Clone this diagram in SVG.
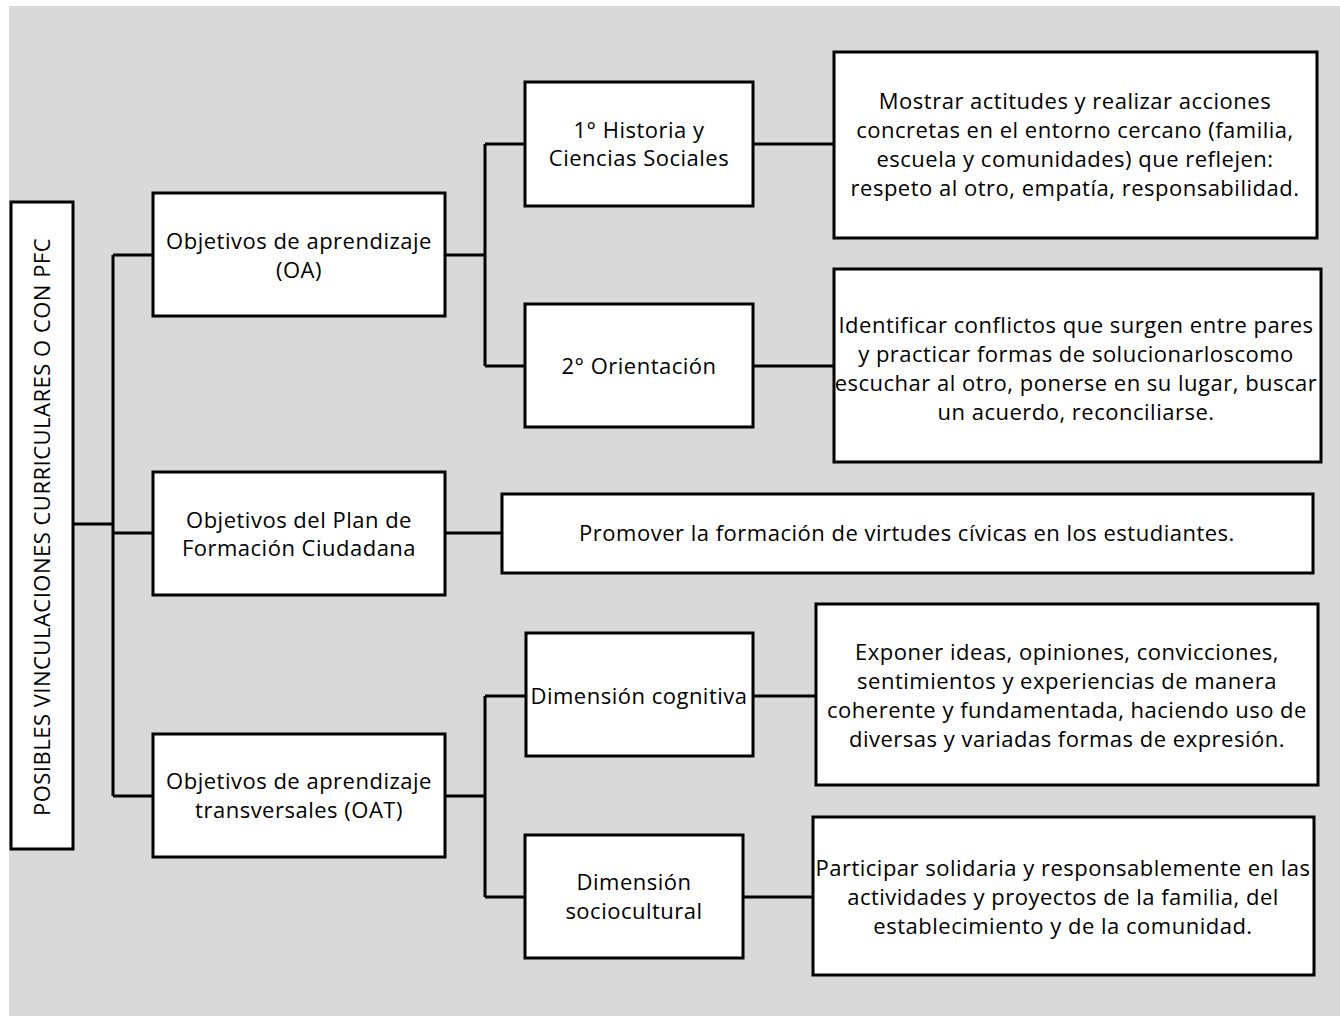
<svg xmlns="http://www.w3.org/2000/svg" width="1340" height="1017" viewBox="0 0 1340 1017">
<style>
.box{fill:#fff;stroke:#000;stroke-width:3}
.ln{fill:none;stroke:#000;stroke-width:3}
text{font-family:"Open Sans","Noto Sans","Liberation Sans",sans-serif;font-size:22px;letter-spacing:0.5px;fill:#000;text-anchor:middle}
</style>
<rect x="9" y="6" width="1331" height="1010" fill="#d9d9d9"/>
<g id="connectors">
<path class="ln" d="M73 524H113M113 255V796M113 255H153M113 533H153M113 796H153"/>
<path class="ln" d="M445 255H485M485 144V366M485 144H525M485 366H525"/>
<path class="ln" d="M753 144H834M753 366H834M445 533H502"/>
<path class="ln" d="M445 796H485M485 696V897M485 696H526M485 897H525"/>
<path class="ln" d="M753 696H816M743 897H813"/>
</g>
<g id="root"><rect class="box" x="11" y="202" width="62" height="647"/>
<text transform="translate(50 527) rotate(-90)">POSIBLES VINCULACIONES CURRICULARES O CON PFC</text></g>
<g id="oa"><rect class="box" x="153" y="193" width="292" height="123"/>
<text x="299" y="249">Objetivos de aprendizaje</text><text x="299" y="278">(OA)</text></g>
<g id="plan"><rect class="box" x="153" y="472" width="292" height="123"/>
<text x="299" y="528">Objetivos del Plan de</text><text x="299" y="556">Formación Ciudadana</text></g>
<g id="oat"><rect class="box" x="153" y="734" width="292" height="123"/>
<text x="299" y="789">Objetivos de aprendizaje</text><text x="299" y="818">transversales (OAT)</text></g>
<g id="historia"><rect class="box" x="525" y="82" width="228" height="124"/>
<text x="639" y="138">1° Historia y</text><text x="639" y="166">Ciencias Sociales</text></g>
<g id="orientacion"><rect class="box" x="525" y="304" width="228" height="123"/>
<text x="639" y="374">2° Orientación</text></g>
<g id="cognitiva"><rect class="box" x="526" y="633" width="227" height="123"/>
<text x="639" y="704">Dimensión cognitiva</text></g>
<g id="sociocultural"><rect class="box" x="525" y="835" width="218" height="123"/>
<text x="634" y="890">Dimensión</text><text x="634" y="919">sociocultural</text></g>
<g id="r1"><rect class="box" x="834" y="52" width="483" height="186"/>
<text x="1075" y="109">Mostrar actitudes y realizar acciones</text>
<text x="1075" y="138">concretas en el entorno cercano (familia,</text>
<text x="1075" y="167">escuela y comunidades) que reflejen:</text>
<text x="1075" y="196">respeto al otro, empatía, responsabilidad.</text></g>
<g id="r2"><rect class="box" x="834" y="269" width="487" height="193"/>
<text x="1076" y="333">Identificar conflictos que surgen entre pares</text>
<text x="1076" y="362">y practicar formas de solucionarloscomo</text>
<text x="1076" y="391">escuchar al otro, ponerse en su lugar, buscar</text>
<text x="1076" y="420">un acuerdo, reconciliarse.</text></g>
<g id="r-plan"><rect class="box" x="502" y="494" width="811" height="79"/>
<text x="907" y="541">Promover la formación de virtudes cívicas en los estudiantes.</text></g>
<g id="r3"><rect class="box" x="816" y="604" width="502" height="181"/>
<text x="1067" y="660">Exponer ideas, opiniones, convicciones,</text>
<text x="1067" y="689">sentimientos y experiencias de manera</text>
<text x="1067" y="718">coherente y fundamentada, haciendo uso de</text>
<text x="1067" y="747">diversas y variadas formas de expresión.</text></g>
<g id="r4"><rect class="box" x="813" y="817" width="501" height="158"/>
<text x="1063" y="876">Participar solidaria y responsablemente en las</text>
<text x="1063" y="905">actividades y proyectos de la familia, del</text>
<text x="1063" y="934">establecimiento y de la comunidad.</text></g>
</svg>
